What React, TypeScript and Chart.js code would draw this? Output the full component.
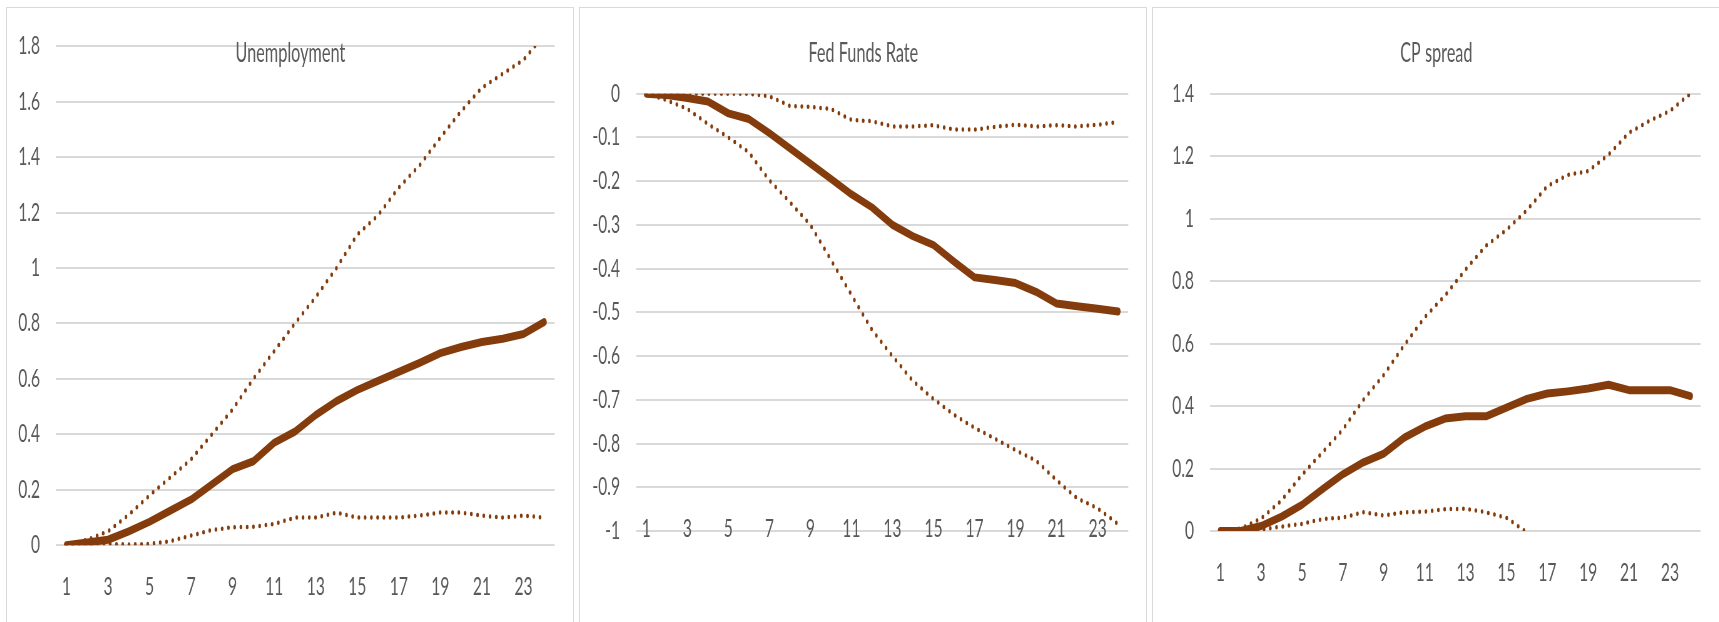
import React, { useEffect, useRef } from 'react';
import { Chart, registerables } from 'chart.js';

Chart.register(...registerables);

// ---------- data ----------
const periods = [1, 2, 3, 4, 5, 6, 7, 8, 9, 10, 11, 12, 13, 14, 15, 16, 17, 18, 19, 20, 21, 22, 23, 24];
const xTickLabels = [1, 3, 5, 7, 9, 11, 13, 15, 17, 19, 21, 23];

const unempMedian = [0, 0.01, 0.02, 0.05, 0.085, 0.125, 0.165, 0.22, 0.275, 0.303, 0.37, 0.41, 0.47, 0.52, 0.56, 0.593, 0.625, 0.658, 0.693, 0.715, 0.733, 0.745, 0.762, 0.805];
const unempUpper = [0, 0.02, 0.05, 0.11, 0.18, 0.245, 0.31, 0.4, 0.49, 0.6, 0.7, 0.8, 0.895, 1.0, 1.12, 1.19, 1.29, 1.37, 1.47, 1.565, 1.65, 1.7, 1.75, 1.84];
const unempLower = [0, 0.005, 0.005, 0.003, 0.005, 0.015, 0.035, 0.055, 0.065, 0.067, 0.077, 0.1, 0.1, 0.118, 0.1, 0.1, 0.1, 0.107, 0.118, 0.118, 0.107, 0.1, 0.107, 0.1];

const fedMedian = [0, -0.003, -0.01, -0.018, -0.045, -0.058, -0.09, -0.125, -0.16, -0.195, -0.23, -0.26, -0.3, -0.326, -0.346, -0.384, -0.42, -0.426, -0.433, -0.453, -0.48, -0.486, -0.492, -0.498];
const fedUpper = [0, 0, 0, 0, 0, 0, -0.006, -0.028, -0.03, -0.035, -0.06, -0.063, -0.075, -0.075, -0.072, -0.082, -0.082, -0.076, -0.071, -0.075, -0.072, -0.075, -0.071, -0.065];
const fedLower = [0, -0.015, -0.035, -0.069, -0.1, -0.134, -0.198, -0.248, -0.3, -0.38, -0.46, -0.54, -0.6, -0.657, -0.698, -0.734, -0.764, -0.789, -0.815, -0.839, -0.884, -0.925, -0.948, -0.984];

const cpMedian = [0, 0, 0.016, 0.046, 0.084, 0.134, 0.182, 0.22, 0.248, 0.299, 0.334, 0.36, 0.367, 0.367, 0.395, 0.423, 0.44, 0.447, 0.456, 0.468, 0.451, 0.451, 0.451, 0.432];
const cpUpper = [0, 0.008, 0.04, 0.098, 0.18, 0.252, 0.325, 0.42, 0.5, 0.595, 0.684, 0.754, 0.837, 0.913, 0.964, 1.027, 1.104, 1.14, 1.152, 1.205, 1.275, 1.313, 1.345, 1.4];
const cpLower = [0, 0, 0.005, 0.014, 0.023, 0.038, 0.043, 0.06, 0.05, 0.06, 0.062, 0.07, 0.071, 0.06, 0.042, -0.004, -0.06, -0.11, -0.15, -0.19, -0.22, -0.25, -0.28, -0.3];

const unempTicks = [0, 0.2, 0.4, 0.6, 0.8, 1, 1.2, 1.4, 1.6, 1.8];
const fedTicks = [-1, -0.9, -0.8, -0.7, -0.6, -0.5, -0.4, -0.3, -0.2, -0.1, 0];
const cpTicks = [0, 0.2, 0.4, 0.6, 0.8, 1, 1.2, 1.4];

const titles = ['Unemployment', 'Fed Funds Rate', 'CP spread'];

// ---------- layout / style ----------
const K = 1.6; // horizontal compression of the original picture
const LINE = '#843C0C';
const TEXT = '#595959';
const GRID = '#D9D9D9';
const FONT = 'Lato';
const FONT_SIZE = 25;
const CANVAS_W = 566 * K;
const CANVAS_H = 614;

type PanelDef = {
  left: number; plotL: number; plotR: number; top: number; bottom: number; xLab: number;
  overlayX: boolean; series: number[][]; ticks: number[]; title: string;
};

const panelDefs: PanelDef[] = [
  { left: 6, plotL: 56, plotR: 554, top: 43.5, bottom: 545.3, xLab: 586.7, overlayX: false, series: [unempUpper, unempLower, unempMedian], ticks: unempTicks, title: titles[0] },
  { left: 579, plotL: 636, plotR: 1127.7, top: 93.7, bottom: 531, xLab: 528.5, overlayX: true, series: [fedUpper, fedLower, fedMedian], ticks: fedTicks, title: titles[1] },
  { left: 1152, plotL: 1210, plotR: 1700, top: 93.7, bottom: 531, xLab: 573.3, overlayX: false, series: [cpUpper, cpLower, cpMedian], ticks: cpTicks, title: titles[2] },
];

const titlePlugin = {
  id: 'panelTitle',
  afterDraw(chart: any, _args: any, opts: any) {
    const { ctx, width } = chart;
    ctx.save();
    ctx.font = `${opts.size}px ${FONT}`;
    ctx.fillStyle = TEXT;
    ctx.textAlign = 'center';
    ctx.textBaseline = 'alphabetic';
    ctx.fillText(opts.text, width / 2, opts.y);
    ctx.restore();
  },
};

// category labels drawn across the bottom gridline (Excel "low" label position)
const overlayXPlugin = {
  id: 'overlayX',
  afterDraw(chart: any, _args: any, opts: any) {
    if (!opts || !opts.enabled) return;
    const { ctx, chartArea } = chart;
    const xs = chart.scales.x;
    ctx.save();
    ctx.font = `${FONT_SIZE}px ${FONT}`;
    ctx.fillStyle = TEXT;
    ctx.textAlign = 'center';
    ctx.textBaseline = 'middle';
    periods.forEach((p, i) => {
      if (!xTickLabels.includes(p)) return;
      ctx.fillText(String(p), xs.getPixelForValue(i), chartArea.bottom + opts.dy);
    });
    ctx.restore();
  },
};

function fmt(v: number) {
  return String(parseFloat(Number(v).toFixed(3)));
}

function Panel({ def }: { def: PanelDef }) {
  const ref = useRef<HTMLCanvasElement | null>(null);
  useEffect(() => {
    if (!ref.current) return;
    const canvasLeft = def.left + 1;
    const plotL = (def.plotL - canvasLeft) * K;
    const padR = CANVAS_W - (def.plotR - canvasLeft) * K;
    const padT = def.top - 8;
    const xH = CANVAS_H - (def.bottom - 8);
    const xPad = def.xLab - def.bottom - FONT_SIZE / 2;
    const min = Math.min(...def.ticks);
    const max = Math.max(...def.ticks);
    const dotted = {
      borderColor: LINE,
      borderWidth: 4.5,
      borderDash: [0, 10],
      borderCapStyle: 'round' as const,
      pointRadius: 0,
      tension: 0,
      fill: false,
    };
    const chart = new Chart(ref.current, {
      type: 'line',
      data: {
        labels: periods,
        datasets: [
          { ...dotted, data: def.series[0] },
          { ...dotted, data: def.series[1] },
          {
            data: def.series[2],
            borderColor: LINE,
            borderWidth: 8,
            borderJoinStyle: 'round',
            borderCapStyle: 'round',
            pointRadius: 0,
            tension: 0,
            fill: false,
          },
        ],
      },
      plugins: [titlePlugin, overlayXPlugin],
      options: {
        animation: false,
        responsive: true,
        maintainAspectRatio: false,
        devicePixelRatio: 1,
        layout: { padding: { left: 0, right: padR, top: padT, bottom: 0 } },
        plugins: {
          legend: { display: false },
          title: { display: false },
          tooltip: { enabled: false },
          panelTitle: { text: def.title, size: 26, y: 53.7 },
          overlayX: { enabled: def.overlayX, dy: def.xLab - def.bottom },
        } as any,
        scales: {
          x: {
            type: 'category',
            offset: true,
            grid: { display: false, drawTicks: false },
            border: { display: false },
            ticks: {
              display: !def.overlayX,
              autoSkip: false,
              maxRotation: 0,
              minRotation: 0,
              padding: xPad,
              color: TEXT,
              font: { family: FONT, size: FONT_SIZE, lineHeight: 1 },
              callback: (_v: any, i: number) => (xTickLabels.includes(periods[i]) ? String(periods[i]) : ''),
            },
            afterFit: (s: any) => { s.height = xH; },
          },
          y: {
            type: 'linear',
            min,
            max,
            grid: { color: GRID, lineWidth: 2, drawTicks: false },
            border: { display: false },
            ticks: {
              padding: 16 * K,
              color: TEXT,
              font: { family: FONT, size: FONT_SIZE, lineHeight: 1 },
              callback: (v: any) => fmt(v),
            },
            afterBuildTicks: (s: any) => { s.ticks = def.ticks.map((v) => ({ value: v })); },
            afterFit: (s: any) => { s.width = plotL; },
          },
        },
      },
    });
    return () => chart.destroy();
  }, [def]);

  return (
    <div
      style={{
        position: 'absolute',
        left: def.left,
        top: 7,
        width: 568,
        height: 620,
        boxSizing: 'border-box',
        border: `1px solid ${GRID}`,
        overflow: 'hidden',
        background: '#fff',
      }}
    >
      <div
        style={{
          position: 'relative',
          width: CANVAS_W,
          height: CANVAS_H,
          transform: `scaleX(${1 / K})`,
          transformOrigin: '0 0',
        }}
      >
        <canvas ref={ref} />
      </div>
    </div>
  );
}

export default function App() {
  return (
    <div
      style={{
        position: 'absolute',
        left: 0,
        top: 0,
        width: 1719,
        height: 622,
        overflow: 'hidden',
        background: '#fff',
      }}
    >
      {panelDefs.map((d, i) => (
        <Panel key={i} def={d} />
      ))}
    </div>
  );
}
